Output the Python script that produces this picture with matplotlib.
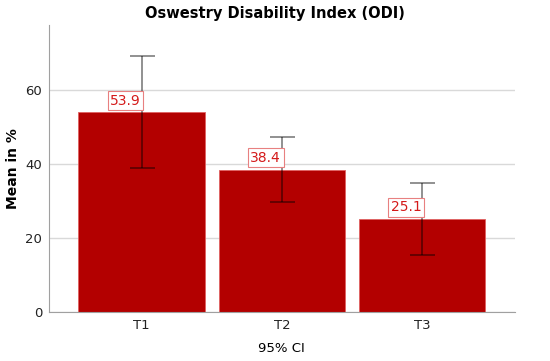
import numpy as np
import matplotlib
matplotlib.use("Agg")
import matplotlib.pyplot as plt

# data
categories = ["T1", "T2", "T3"]
means = [53.9, 38.4, 25.1]
ci_low = [38.9, 29.7, 15.4]
ci_high = [69.2, 47.3, 34.9]

BAR_COLOR = "#B30000"
GRID = "#D9D9D9"

fig = plt.figure(figsize=(5.5, 3.61), dpi=100)
ax = fig.add_axes([0.089, 0.1357, 0.847, 0.795])

x = np.arange(len(categories))
ax.bar(x, means, width=0.9, color=BAR_COLOR, edgecolor="#E06060", linewidth=0.6, zorder=2)

yerr = np.array([np.array(means) - np.array(ci_low), np.array(ci_high) - np.array(means)])
ax.errorbar(x, means, yerr=yerr, fmt="none", ecolor="black", alpha=0.55,
            elinewidth=1.1, capsize=9, capthick=1.1, zorder=3)

for xi, m in zip(x, means):
    ax.text(xi - 0.115, m + 1.3, f"{m:.1f}", ha="center", va="bottom", fontsize=10,
            color="#D41A1A", zorder=4,
            bbox=dict(boxstyle="square,pad=0.18", facecolor="white", edgecolor="#E88080", linewidth=0.8))

ax.set_xlim(-0.66, 2.66)
ax.set_ylim(0, 77.5)
ax.set_yticks([0, 20, 40, 60])
ax.set_xticks(x)
ax.set_xticklabels(categories)
ax.yaxis.grid(True, color=GRID, linewidth=1.0, zorder=0)
ax.set_axisbelow(True)

for side in ["top", "right"]:
    ax.spines[side].set_visible(False)
for side in ["left", "bottom"]:
    ax.spines[side].set_color("#A0A0A0")
ax.tick_params(axis="both", length=0, labelsize=9.5, colors="#222222", pad=5)

ax.set_ylabel("Mean in %", fontsize=10, fontweight="bold", labelpad=4)
ax.set_xlabel("95% CI", fontsize=9.5, labelpad=7)
fig.text(0.5, 0.962, "Oswestry Disability Index (ODI)", ha="center", va="center",
         fontsize=10.5, fontweight="bold")

fig.savefig("out.png", dpi=100)
